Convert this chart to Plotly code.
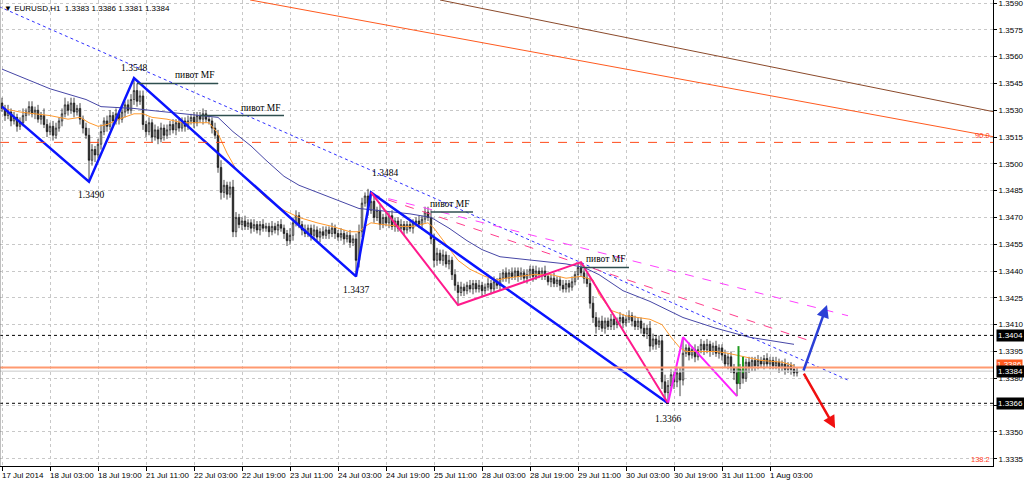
import plotly.graph_objects as go

# ---------------- data ----------------
x_tick_labels = ["17 Jul 2014", "18 Jul 03:00", "18 Jul 19:00", "21 Jul 11:00", "22 Jul 03:00",
                 "22 Jul 19:00", "23 Jul 11:00", "24 Jul 03:00", "24 Jul 19:00", "25 Jul 11:00",
                 "28 Jul 03:00", "28 Jul 19:00", "29 Jul 11:00", "30 Jul 03:00", "30 Jul 19:00",
                 "31 Jul 11:00", "1 Aug 03:00"]
x_tick_bars = [0, 16, 32, 48, 64, 80, 96, 112, 128, 144, 160, 176, 192, 208, 224, 240, 256]
y_tick_labels = ["1.3335", "1.3350", "1.3365", "1.3380", "1.3395", "1.3410", "1.3425", "1.3440",
                 "1.3455", "1.3470", "1.3485", "1.3500", "1.3515", "1.3530", "1.3545", "1.3560",
                 "1.3575", "1.3590"]

first_open = 1.3534
closes = [
    1.3531, 1.3527, 1.3529, 1.3524, 1.3526, 1.3521, 1.3523, 1.3527, 1.3529, 1.3532,
    1.3528, 1.3530, 1.3525, 1.3527, 1.3522, 1.3518, 1.3521, 1.3516, 1.3520, 1.3524,
    1.3528, 1.3533, 1.3530, 1.3534, 1.3529, 1.3531, 1.3525, 1.3520, 1.3516, 1.3502,
    1.3508, 1.3505, 1.3511, 1.3518, 1.3524, 1.3521, 1.3527, 1.3524, 1.3528, 1.3525,
    1.3529, 1.3533, 1.3530, 1.3536, 1.3541, 1.3535, 1.3538, 1.3522, 1.3518, 1.3523,
    1.3515, 1.3519, 1.3514, 1.3520, 1.3516, 1.3519, 1.3522, 1.3519, 1.3523, 1.3520,
    1.3524, 1.3521, 1.3524, 1.3526, 1.3523, 1.3527, 1.3525, 1.3528, 1.3525, 1.3524,
    1.3520, 1.3516, 1.3498, 1.3484, 1.3488, 1.3483, 1.3487, 1.3462, 1.3470, 1.3466,
    1.3468, 1.3465, 1.3467, 1.3464, 1.3466, 1.3463, 1.3466, 1.3464, 1.3465, 1.3462,
    1.3465, 1.3463, 1.3466, 1.3464, 1.3461, 1.3457, 1.3460, 1.3467, 1.3471, 1.3466,
    1.3463, 1.3461, 1.3464, 1.3460, 1.3463, 1.3459, 1.3462, 1.3460, 1.3463, 1.3461,
    1.3464, 1.3461, 1.3459, 1.3461, 1.3458, 1.3460, 1.3456, 1.3458, 1.3446, 1.3462,
    1.3478, 1.3482, 1.3474, 1.3479, 1.3470, 1.3474, 1.3466, 1.3470, 1.3467, 1.3471,
    1.3465, 1.3468, 1.3464, 1.3466, 1.3463, 1.3466, 1.3464, 1.3467, 1.3468, 1.3466,
    1.3469, 1.3473, 1.3470, 1.3458, 1.3446, 1.3450, 1.3446, 1.3449, 1.3444, 1.3446,
    1.3438, 1.3432, 1.3428, 1.3431, 1.3429, 1.3432, 1.3430, 1.3433, 1.3430, 1.3432,
    1.3429, 1.3431, 1.3433, 1.3430, 1.3434, 1.3432, 1.3436, 1.3439, 1.3436, 1.3439,
    1.3437, 1.3440, 1.3437, 1.3439, 1.3436, 1.3438, 1.3441, 1.3437, 1.3440, 1.3438,
    1.3440, 1.3437, 1.3434, 1.3436, 1.3433, 1.3435, 1.3432, 1.3430, 1.3433, 1.3431,
    1.3434, 1.3438, 1.3442, 1.3439, 1.3436, 1.3433, 1.3422, 1.3414, 1.3409, 1.3412,
    1.3408, 1.3412, 1.3409, 1.3413, 1.3410, 1.3412, 1.3414, 1.3411, 1.3413, 1.3415,
    1.3412, 1.3409, 1.3412, 1.3408, 1.3405, 1.3408, 1.3398, 1.3402, 1.3399, 1.3401,
    1.3378, 1.3372, 1.3376, 1.3382, 1.3378, 1.3383, 1.3379, 1.3394, 1.3397, 1.3393,
    1.3396, 1.3392, 1.3396, 1.3399, 1.3396, 1.3399, 1.3395, 1.3398, 1.3394, 1.3397,
    1.3393, 1.3388, 1.3392, 1.3386, 1.3383, 1.3377, 1.3385, 1.3380, 1.3389, 1.3386,
    1.3390, 1.3387, 1.3390, 1.3388, 1.3391, 1.3388, 1.3390, 1.3387, 1.3389, 1.3386,
    1.3388, 1.3385, 1.3387, 1.3385, 1.3383, 1.3384,
]
wick_up_pips = [
    3, 2, 4, 2, 3, 2, 3, 4, 2, 3,  3, 2, 3, 2, 4, 3, 2, 3, 3, 2,
    3, 4, 2, 3, 3, 2, 3, 2, 3, 4,  3, 2, 3, 4, 2, 3, 3, 2, 3, 2,
    3, 2, 3, 3, 7, 4, 3, 3, 2, 3,  2, 3, 2, 3, 2, 3, 2, 3, 2, 3,
    2, 2, 3, 2, 3, 2, 2, 3, 2, 2,  2, 3, 3, 4, 3, 2, 3, 4, 3, 2,
    2, 3, 2, 2, 3, 2, 2, 3, 2, 2,  3, 2, 2, 3, 2, 2, 4, 3, 3, 2,
    2, 3, 2, 2, 3, 2, 2, 3, 2, 2,  3, 2, 2, 3, 2, 2, 3, 2, 3, 4,
    3, 2, 4, 5, 3, 2, 3, 2, 3, 2,  3, 2, 2, 3, 2, 2, 3, 2, 2, 3,
    2, 3, 3, 4, 3, 3, 2, 3, 2, 3,  2, 3, 2, 3, 2, 2, 3, 2, 2, 3,
    2, 2, 3, 2, 3, 2, 3, 2, 3, 2,  3, 2, 2, 3, 2, 3, 2, 2, 3, 2,
    2, 3, 2, 2, 3, 2, 2, 3, 2, 2,  3, 2, 2, 3, 2, 3, 3, 4, 3, 2,
    3, 2, 2, 3, 2, 2, 3, 2, 2, 3,  2, 3, 2, 2, 3, 2, 4, 3, 2, 3,
    3, 4, 3, 3, 2, 3, 3, 9, 2, 3,  2, 3, 2, 3, 2, 3, 2, 2, 3, 2,
    2, 3, 2, 3, 2, 3, 3, 4, 2, 3,  2, 2, 3, 2, 2, 3, 2, 2, 3, 2,
    2, 3, 2, 2, 3, 2,
]
wick_down_pips = [
    2, 3, 2, 3, 2, 3, 2, 2, 3, 2,  2, 3, 2, 3, 2, 3, 2, 3, 2, 2,
    3, 2, 3, 2, 3, 2, 3, 3, 2, 12, 3, 4, 2, 3, 2, 3, 2, 3, 2, 3,
    2, 3, 2, 2, 3, 3, 2, 3, 3, 2,  3, 2, 3, 2, 3, 2, 3, 2, 3, 2,
    2, 3, 2, 2, 3, 2, 2, 3, 2, 2,  3, 2, 3, 4, 3, 3, 2, 3, 3, 2,
    3, 2, 2, 3, 2, 2, 3, 2, 2, 3,  2, 2, 3, 2, 3, 3, 2, 3, 2, 2,
    3, 2, 2, 3, 2, 2, 3, 2, 2, 3,  2, 3, 2, 2, 3, 2, 3, 2, 9, 4,
    3, 2, 3, 2, 3, 2, 3, 2, 2, 3,  2, 3, 2, 2, 3, 2, 2, 3, 2, 2,
    3, 2, 2, 3, 4, 3, 2, 3, 2, 3,  3, 3, 7, 2, 3, 2, 2, 3, 2, 2,
    3, 2, 2, 3, 2, 2, 3, 2, 2, 3,  2, 2, 3, 2, 2, 3, 2, 3, 2, 2,
    3, 2, 2, 3, 2, 2, 3, 2, 2, 3,  2, 2, 3, 2, 3, 2, 3, 3, 4, 2,
    2, 3, 2, 2, 3, 2, 2, 3, 2, 2,  3, 2, 2, 3, 2, 3, 3, 2, 3, 2,
    4, 3, 6, 3, 4, 3, 9, 3, 2, 3,  2, 3, 2, 2, 3, 2, 3, 2, 2, 3,
    3, 2, 3, 3, 4, 7, 3, 3, 2, 3,  2, 3, 2, 2, 3, 2, 3, 2, 2, 3,
    2, 3, 2, 3, 2, 2,
]

# moving averages (bar, price)
ma_fast_bar = [0, 6, 16, 22, 26, 29, 32, 35, 39, 44, 47, 50, 55, 60, 66, 69, 72, 75, 78, 83, 88,
               94, 99, 105, 110, 116, 119, 121, 123, 127, 133, 137, 142, 144, 147, 152, 156, 161,
               165, 168, 177, 183, 188, 193, 197, 199, 203, 208, 216, 220, 223, 226, 228, 233,
               238, 242, 247, 253, 260, 264]
ma_fast_val = [1.3531, 1.3529, 1.3527, 1.3525, 1.3526, 1.3523, 1.3521, 1.3522, 1.3525, 1.3528,
               1.3528, 1.3526, 1.3525, 1.3523, 1.3523, 1.3523, 1.3517, 1.3506, 1.3497, 1.3489,
               1.3481, 1.3474, 1.3470, 1.3467, 1.3465, 1.3462, 1.3462, 1.3465, 1.3467, 1.3466,
               1.3465, 1.3465, 1.3467, 1.3464, 1.3457, 1.3446, 1.3441, 1.3437, 1.3435, 1.3436,
               1.3438, 1.3438, 1.3436, 1.3437, 1.3435, 1.3427, 1.3418, 1.3415, 1.3413, 1.3410,
               1.3403, 1.3397, 1.3395, 1.3395, 1.3395, 1.3394, 1.3392, 1.3390, 1.3389, 1.3387]
ma_slow_bar = [0, 6, 16, 22, 28, 33, 44, 49, 55, 60, 66, 72, 77, 83, 88, 94, 99, 105, 110, 116,
               119, 125, 130, 136, 143, 149, 155, 160, 166, 177, 188, 194, 199, 207, 216, 227,
               238, 249, 260, 264]
ma_slow_val = [1.3553, 1.3549, 1.3542, 1.3539, 1.3536, 1.3532, 1.3531, 1.3530, 1.3529, 1.3528,
               1.3527, 1.3526, 1.3518, 1.3510, 1.3502, 1.3493, 1.3488, 1.3484, 1.3481, 1.3477,
               1.3475, 1.3474, 1.3473, 1.3472, 1.3470, 1.3464, 1.3457, 1.3452, 1.3448, 1.3446,
               1.3444, 1.3442, 1.3438, 1.3429, 1.3423, 1.3414, 1.3408, 1.3403, 1.3400, 1.3399]

# wave drawings (bar, price)
zz_blue_bar = [0, 29, 44, 118, 123, 222]
zz_blue_val = [1.3532, 1.3490, 1.3548, 1.3437, 1.3484, 1.3366]
zz_pink_bar = [123, 152, 193, 222]
zz_pink_val = [1.3484, 1.3421, 1.3445, 1.3366]
zz_magenta_bar = [222, 227, 245]
zz_magenta_val = [1.3366, 1.3403, 1.3370]
green_bar = [245.5, 245.5, None, 247, 247]
green_val = [1.3398, 1.3377, None, 1.3392, 1.3383]
extreme_labels_bar = [44, 29, 123, 118, 222]
extreme_labels_val = [1.3548, 1.3490, 1.3484, 1.3437, 1.3366]

trend_dotted_bar = [-1, 282]
trend_dotted_val = [1.3588, 1.3379]
fan_magenta_bar = [123, 282]
fan_magenta_val = [1.3483, 1.3415]
fan_pink_bar = [123, 271]
fan_pink_val = [1.3483, 1.3400]
channel_brown_bar = [146, 331]
channel_brown_val = [1.35917, 1.3529]
channel_orange_bar = [82.7, 331]
channel_orange_val = [1.35917, 1.3515]

pivot_start = [45, 66, 143, 193]
pivot_end = [72, 94, 157, 209]
pivot_val = [1.3545, 1.3527, 1.3473, 1.3442]
pivot_text = "пивот MF"

level_dotted = [1.3404, 1.3366]
level_orange = 1.3386
bid_price = 1.3384
fib_90 = 1.3512

arrow_from_bar, arrow_from_val = 267, 1.33835
arrow_up_bar, arrow_up_val = 275, 1.3421
arrow_down_bar, arrow_down_val = 277.7, 1.3352

title_text = "EURUSD,H1  1.3383 1.3386 1.3381 1.3384"

# ---------------- build the figure ----------------
n = len(closes)
bars = list(range(n))
opens = [first_open] + closes[:-1]
highs = [max(o, c) + u / 10000 for o, c, u in zip(opens, closes, wick_up_pips)]
lows = [min(o, c) - d / 10000 for o, c, d in zip(opens, closes, wick_down_pips)]

fig = go.Figure()


def line(xs, ys, color, width, dash="solid"):
    fig.add_trace(go.Scatter(x=xs, y=ys, mode="lines", hoverinfo="skip",
                             line=dict(color=color, width=width, dash=dash)))


# background drawings first
line(channel_brown_bar, channel_brown_val, "#8b4a2b", 1)
line(channel_orange_bar, channel_orange_val, "#ff5a1f", 1)
line(trend_dotted_bar, trend_dotted_val, "#3030ff", 1, "dot")
line(fan_magenta_bar, fan_magenta_val, "#ff40ff", 1, "dash")
line(fan_pink_bar, fan_pink_val, "#ff3d8b", 1, "dash")

fig.add_trace(go.Candlestick(
    x=bars, open=opens, high=highs, low=lows, close=closes,
    increasing=dict(line=dict(color="#1a1a1a", width=0.8), fillcolor="#ffffff"),
    decreasing=dict(line=dict(color="#1a1a1a", width=0.8), fillcolor="#1a1a1a"),
    whiskerwidth=0, hoverinfo="skip"))

line(ma_slow_bar, ma_slow_val, "#4646a6", 1)
line(ma_fast_bar, ma_fast_val, "#ff9a2e", 1)
line(zz_blue_bar, zz_blue_val, "#0a14ff", 2.5)
line(zz_pink_bar, zz_pink_val, "#ff1a8c", 2)
line(zz_magenta_bar, zz_magenta_val, "#ff20ff", 2)
line(green_bar, green_val, "#1e9a1e", 2)

for s, e, v in zip(pivot_start, pivot_end, pivot_val):
    line([s, e], [v, v], "#2f4f4f", 1.5)

shapes = []
for lv in level_dotted:
    shapes.append(dict(type="line", xref="paper", yref="y", x0=0, x1=1, y0=lv, y1=lv,
                       line=dict(color="#000000", width=1, dash="dot")))
shapes.append(dict(type="line", xref="paper", yref="y", x0=0, x1=1, y0=level_orange, y1=level_orange,
                   line=dict(color="#ff9a70", width=2)))
shapes.append(dict(type="line", xref="paper", yref="y", x0=0, x1=1, y0=bid_price, y1=bid_price,
                   line=dict(color="#c8c8c8", width=1)))
shapes.append(dict(type="line", xref="paper", yref="y", x0=0, x1=1, y0=fib_90, y1=fib_90,
                   line=dict(color="#ff4a1a", width=1, dash="dash")))
shapes.append(dict(type="line", xref="paper", yref="paper", x0=0, x1=0, y0=0, y1=1,
                   line=dict(color="#808080", width=1)))

ann = []
serif = dict(family="Liberation Serif, Times New Roman, serif", size=9.5, color="#000000")
sans = "Liberation Sans, Arial, sans-serif"

# extreme labels
offsets = [(0, 3, "bottom"), (2, -6, "top"), (14, 12, "bottom"), (0, -7, "top"), (0, -9, "top")]
for b, v, (dx, dy, anc) in zip(extreme_labels_bar, extreme_labels_val, offsets):
    ann.append(dict(x=b, y=v, xref="x", yref="y", text=f"{v:.4f}", showarrow=False,
                    xshift=dx, yshift=dy, yanchor=anc, font=serif))
# pivot texts
for e, v in zip(pivot_end, pivot_val):
    ann.append(dict(x=e, y=v, xref="x", yref="y", text=pivot_text, showarrow=False,
                    xanchor="right", yanchor="bottom", xshift=-2, yshift=1, font=serif))

# arrows
ann.append(dict(x=arrow_up_bar, y=arrow_up_val, ax=arrow_from_bar, ay=arrow_from_val,
                xref="x", yref="y", axref="x", ayref="y", text="", showarrow=True,
                arrowhead=2, arrowsize=1, arrowwidth=2.5, arrowcolor="#2b3fd6"))
ann.append(dict(x=arrow_down_bar, y=arrow_down_val, ax=arrow_from_bar, ay=arrow_from_val,
                xref="x", yref="y", axref="x", ayref="y", text="", showarrow=True,
                arrowhead=2, arrowsize=1, arrowwidth=2.5, arrowcolor="#f01010"))

# price boxes on the right scale
ann.append(dict(x=1, y=level_orange, xref="paper", yref="y", xanchor="left", xshift=3, yshift=3,
                text="1.3386", showarrow=False, bgcolor="#ff5a1f", borderpad=0,
                font=dict(family=sans, size=8, color="#ffffff")))
for lv in level_dotted + [bid_price]:
    ann.append(dict(x=1, y=lv, xref="paper", yref="y", xanchor="left", xshift=3,
                    text=f"{lv:.4f}", showarrow=False, bgcolor="#000000", borderpad=1,
                    font=dict(family=sans, size=8, color="#ffffff")))
# fibo level texts
ann.append(dict(x=1, y=fib_90, xref="paper", yref="y", xanchor="right", yanchor="bottom",
                xshift=-1, text="90.0", showarrow=False,
                font=dict(family=sans, size=7.5, color="#ff3a1a")))
ann.append(dict(x=1, y=0, xref="paper", yref="paper", xanchor="right", yanchor="bottom",
                xshift=-1, text="138.2", showarrow=False,
                font=dict(family=sans, size=7.5, color="#ff3a1a")))
# x labels, left aligned after their tick
for b, t in zip(x_tick_bars, x_tick_labels):
    ann.append(dict(x=b, y=0, xref="x", yref="paper", xanchor="left", yanchor="top",
                    xshift=-2, yshift=-3, text=t, showarrow=False,
                    font=dict(family=sans, size=8, color="#000000")))
# header
ann.append(dict(x=0, y=1, xref="paper", yref="paper", xanchor="left", yanchor="top",
                xshift=2, yshift=-2, text="▼ " + title_text, showarrow=False,
                font=dict(family=sans, size=8, color="#000000")))

y_vals = [float(t) for t in y_tick_labels]

fig.update_layout(
    width=1024, height=482, autosize=False,
    margin=dict(l=0, r=31, t=0, b=16),
    paper_bgcolor="#ffffff", plot_bgcolor="#ffffff",
    showlegend=False, shapes=shapes, annotations=ann,
    xaxis=dict(range=[-0.667, 330.333], tickvals=x_tick_bars, showticklabels=False,
               ticks="outside", ticklen=4, tickcolor="#000000",
               showgrid=True, gridcolor="#c8c8c8", griddash="dot", gridwidth=1,
               showline=True, linecolor="#000000", linewidth=1, zeroline=False,
               rangeslider=dict(visible=False), fixedrange=True),
    yaxis=dict(range=[1.333091, 1.359168], side="right", tickvals=y_vals, ticktext=y_tick_labels,
               ticks="outside", ticklen=3, tickcolor="#000000", ticklabeloverflow="allow",
               tickfont=dict(family=sans, size=8, color="#000000"),
               showgrid=True, gridcolor="#c8c8c8", griddash="dot", gridwidth=1,
               showline=True, linecolor="#000000", linewidth=1, zeroline=False, fixedrange=True),
)

fig.write_html("out.html", config={"displayModeBar": False},
               post_script="document.body.style.margin='0';document.body.style.padding='0';")
